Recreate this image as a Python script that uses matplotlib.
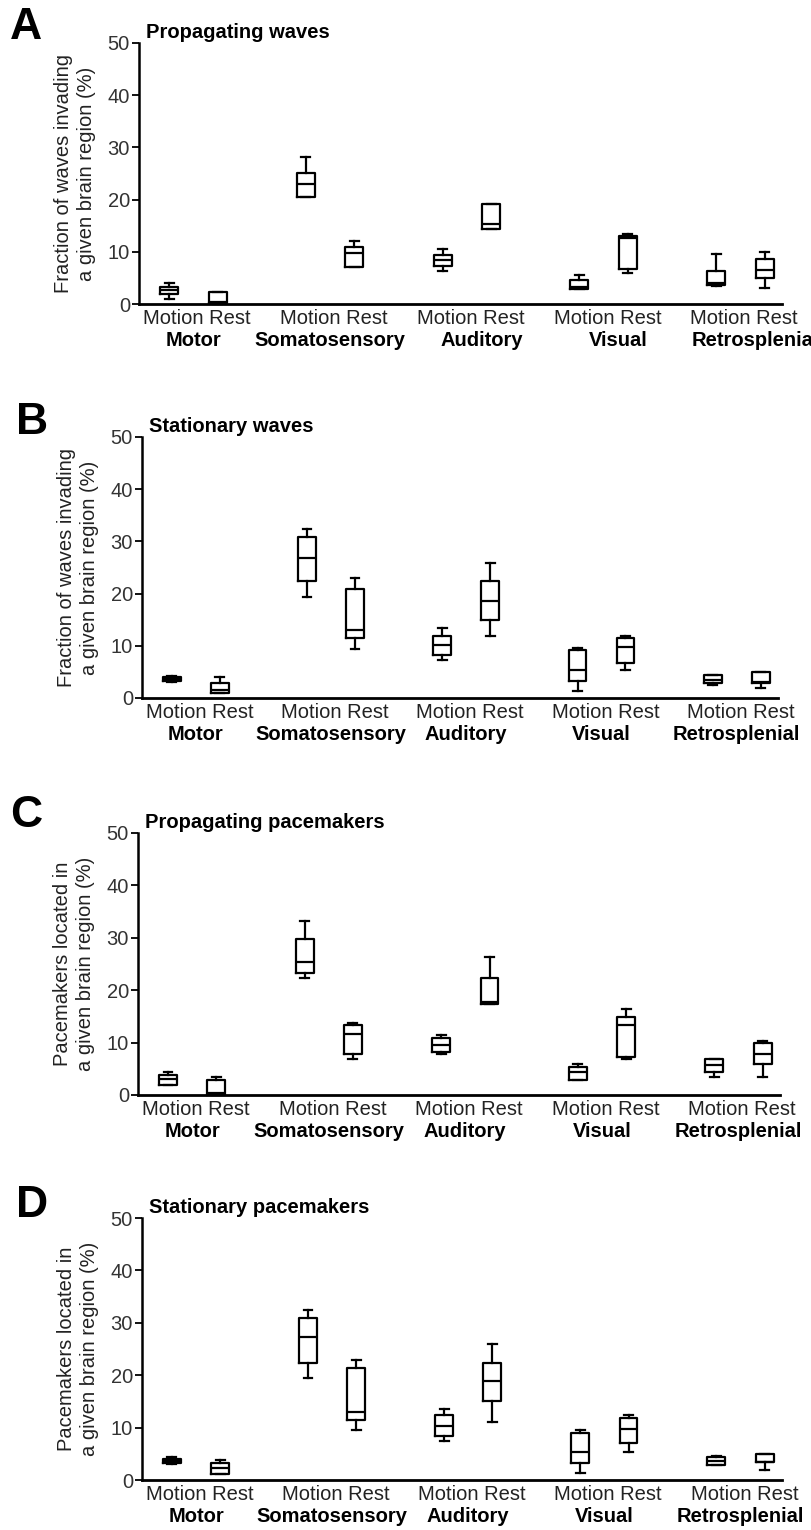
import matplotlib
matplotlib.use("Agg")
import matplotlib.pyplot as plt

plt.rcParams['font.family'] = ['Liberation Sans', 'DejaVu Sans']

regions = ['Motor', 'Somatosensory', 'Auditory', 'Visual', 'Retrosplenial']
states = ['Motion', 'Rest']

# five-number summaries per box: (whisker low, q1, median, q3, whisker high)
# order: Motor M/R, Somatosensory M/R, Auditory M/R, Visual M/R, Retrosplenial M/R
prop_waves = [
    (1.0, 2.0, 2.7, 3.3, 4.0), (0.0, 0.1, 0.4, 2.3, 2.3),
    (20.5, 20.5, 23.0, 25.1, 28.2), (7.1, 7.1, 9.7, 10.9, 12.0),
    (6.4, 7.3, 8.4, 9.4, 10.5), (14.3, 14.3, 15.3, 19.1, 19.1),
    (2.8, 2.8, 3.2, 4.6, 5.5), (5.9, 6.8, 12.6, 13.0, 13.5),
    (3.5, 3.7, 4.1, 6.4, 9.5), (3.0, 4.9, 6.6, 8.6, 10.0),
]
stat_waves = [
    (3.0, 3.3, 3.7, 4.0, 4.3), (1.0, 1.0, 1.5, 2.9, 4.0),
    (19.3, 22.4, 26.8, 30.9, 32.4), (9.4, 11.4, 13.0, 20.9, 22.9),
    (7.3, 8.2, 10.1, 11.9, 13.4), (11.8, 14.9, 18.6, 22.4, 25.9),
    (1.3, 3.2, 5.3, 9.1, 9.5), (5.4, 6.8, 9.7, 11.5, 11.9),
    (2.4, 2.8, 3.5, 4.4, 4.5), (1.9, 2.9, 3.0, 4.9, 4.9),
]
prop_pace = [
    (2.0, 2.0, 3.1, 3.9, 4.4), (0.0, 0.0, 0.3, 2.9, 3.4),
    (22.3, 23.3, 25.4, 29.8, 33.3), (6.9, 7.9, 11.7, 13.3, 13.8),
    (7.9, 8.2, 9.5, 10.9, 11.4), (17.4, 17.4, 17.7, 22.3, 26.3),
    (2.8, 2.8, 4.4, 5.3, 5.9), (6.9, 7.3, 13.3, 14.9, 16.4),
    (3.4, 4.4, 5.7, 6.9, 6.9), (3.4, 5.9, 7.8, 9.9, 10.4),
]
stat_pace = [
    (3.0, 3.3, 3.7, 4.0, 4.3), (1.1, 1.1, 2.3, 3.3, 3.9),
    (19.4, 22.4, 27.2, 31.0, 32.5), (9.5, 11.4, 13.0, 21.4, 22.9),
    (7.4, 8.4, 10.3, 12.4, 13.5), (11.0, 15.1, 18.9, 22.4, 26.0),
    (1.4, 3.3, 5.4, 9.0, 9.5), (5.4, 7.0, 9.8, 11.9, 12.4),
    (2.8, 2.9, 3.6, 4.4, 4.5), (2.0, 3.4, 3.4, 4.9, 4.9),
]

titles = ['Propagating waves', 'Stationary waves',
          'Propagating pacemakers', 'Stationary pacemakers']
letters = ['A', 'B', 'C', 'D']
ylabels = ['Fraction of waves invading\na given brain region (%)',
           'Fraction of waves invading\na given brain region (%)',
           'Pacemakers located in\na given brain region (%)',
           'Pacemakers located in\na given brain region (%)']
panel_data = [prop_waves, stat_waves, prop_pace, stat_pace]

# axes boxes in pixels: left, right, top, bottom ; letter position (x, top)
W, H = 811, 1530
axes_px = [(139, 782, 43, 304), (142, 778, 437, 698),
           (138, 780, 833, 1095), (142, 782, 1218, 1480)]
letter_px = [(10, 7), (16, 402), (10, 795), (16, 1185)]
label_shift = [0.3, 0.0, 0.0, 0.0]

pitch = 2.82
pos = []
for g in range(len(regions)):
    pos += [g * pitch, g * pitch + 1]

fig = plt.figure(figsize=(W / 100, H / 100), dpi=100)

lw = 1.6
for k in range(4):
    l, r, t, b = axes_px[k]
    ax = fig.add_axes([l / W, 1 - b / H, (r - l) / W, (b - t) / H])
    stats = [dict(whislo=s[0], q1=s[1], med=s[2], q3=s[3], whishi=s[4])
             for s in panel_data[k]]
    ax.bxp(stats, positions=pos, widths=0.37, showfliers=False,
           boxprops=dict(color='black', linewidth=lw),
           medianprops=dict(color='black', linewidth=lw),
           whiskerprops=dict(color='black', linewidth=lw),
           capprops=dict(color='black', linewidth=lw),
           manage_ticks=False)
    for art in ax.lines:
        art.set_clip_on(False)

    ax.set_ylim(0, 50)
    ax.set_xlim(-0.62, 4 * pitch + 1 + 0.36)
    ax.set_yticks([0, 10, 20, 30, 40, 50])
    ax.tick_params(axis='y', labelsize=14.5, labelcolor='#333333', length=5,
                   width=1.3, pad=1.5, direction='out')
    ax.set_xticks([])
    for s in ['top', 'right']:
        ax.spines[s].set_visible(False)
    ax.spines['left'].set_linewidth(1.8)
    ax.spines['bottom'].set_linewidth(2.0)

    for g, name in enumerate(regions):
        cx = g * pitch + 0.5
        ax.annotate('Motion Rest', xy=(cx + 0.08, 0), xycoords=('data', 'axes fraction'),
                    xytext=(0, -10.5), textcoords='offset points',
                    ha='center', va='center', fontsize=14.5, color='#222222',
                    annotation_clip=False)
        ax.annotate(name, xy=(cx + label_shift[k] * (g > 1), 0),
                    xycoords=('data', 'axes fraction'),
                    xytext=(0, -26.5), textcoords='offset points',
                    ha='center', va='center', fontsize=14.5, fontweight='bold',
                    color='black', annotation_clip=False)

    ax.text(-64 / (r - l), 0.5, ylabels[k], transform=ax.transAxes,
            rotation=90, ha='center', va='center', fontsize=14.5,
            color='#222222', linespacing=1.25)
    ax.text(7 / (r - l), 1 + 5 / (b - t), titles[k], transform=ax.transAxes,
            ha='left', va='baseline', fontsize=14.5, fontweight='bold')

    lx, ly = letter_px[k]
    fig.text(lx / W, 1 - ly / H, letters[k], ha='left', va='top',
             fontsize=32, fontweight='bold')

fig.savefig('out.png', dpi=100)
